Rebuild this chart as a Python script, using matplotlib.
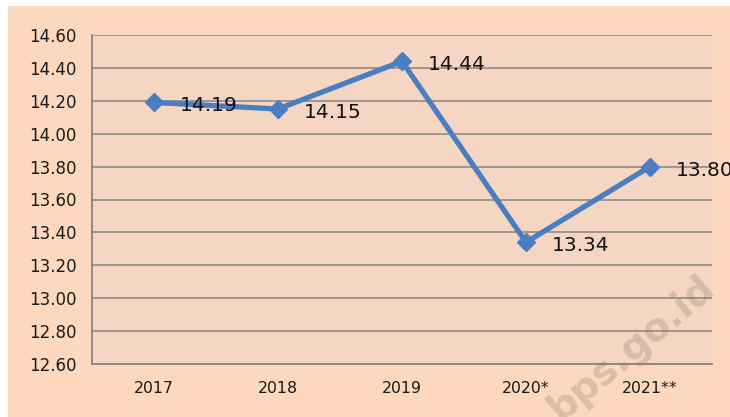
import matplotlib
matplotlib.use("Agg")
import matplotlib.pyplot as plt
from matplotlib.patches import Rectangle

years = ["2017", "2018", "2019", "2020*", "2021**"]
values = [14.19, 14.15, 14.44, 13.34, 13.80]
value_labels = ["14.19", "14.15", "14.44", "13.34", "13.80"]
yticks = [12.60, 12.80, 13.00, 13.20, 13.40, 13.60, 13.80, 14.00, 14.20, 14.40, 14.60]

W, H = 730, 417
fig = plt.figure(figsize=(W / 100, H / 100), dpi=100)
fig.patch.set_facecolor("white")
# peach chart area (white margin top/left)
bg = Rectangle((8 / W, 0), 1 - 8 / W, 1 - 6 / H, transform=fig.transFigure,
               facecolor="#FCD8BE", edgecolor="none", zorder=-10)
fig.add_artist(bg)

ax = fig.add_axes([92 / W, 1 - 364 / H, (712 - 92) / W, (364 - 35) / H])
ax.set_facecolor("#F5D6C2")

x = list(range(len(years)))
ax.plot(x, values, color="#4A7EC0", linewidth=3.8, marker="D", markersize=9,
        markerfacecolor="#4A7EC0", markeredgecolor="#4A7EC0", zorder=3)

for xi, v, lab in zip(x, values, value_labels):
    ax.annotate(lab, (xi, v), xytext=(18.5, -2.5), textcoords="offset points",
                ha="left", va="center", fontsize=14.5, color="#111111", zorder=4,
                annotation_clip=False)

ax.set_xlim(-0.5, len(years) - 0.5)
ax.set_ylim(12.60, 14.60)
ax.set_yticks(yticks)
ax.set_yticklabels([f"{t:.2f}" for t in yticks], fontsize=12, color="#1a1a1a")
ax.set_xticks(x)
ax.set_xticklabels(years, fontsize=11.3, color="#1a1a1a")
ax.tick_params(axis="both", length=0)
ax.tick_params(axis="y", pad=11)
ax.tick_params(axis="x", pad=12)

ax.grid(axis="y", color="#848484", linewidth=1.1)
ax.set_axisbelow(True)
for side in ["top", "right"]:
    ax.spines[side].set_visible(False)
for side in ["left", "bottom"]:
    ax.spines[side].set_color("#848484")
    ax.spines[side].set_linewidth(1.3)

# watermark
fig.text(632 / W, 1 - 348 / H, "bps.go.id", rotation=40, fontsize=28, fontweight="bold",
         color="#8a7a70", alpha=0.28, ha="center", va="center", zorder=10)

fig.savefig("out.png", dpi=100)
